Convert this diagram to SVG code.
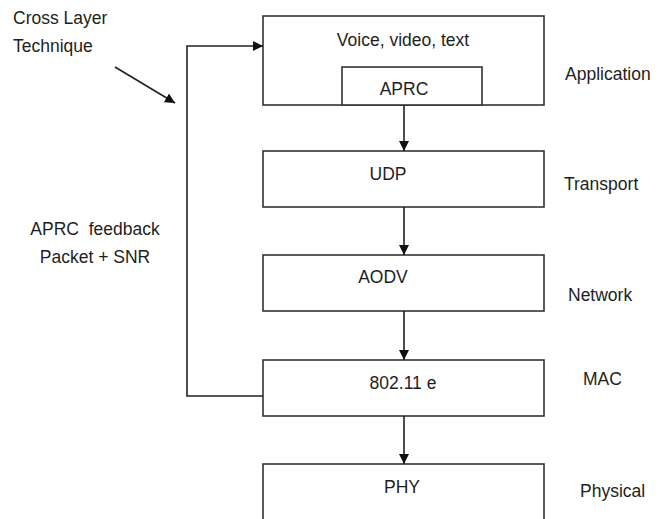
<svg xmlns="http://www.w3.org/2000/svg" width="667" height="519" viewBox="0 0 667 519">
<style>
.box{fill:#fff;stroke:#333;stroke-width:1.6}
.t{font-family:"Liberation Sans",Arial,sans-serif;font-size:17.5px;fill:#1e1e1e;white-space:pre}
.c{text-anchor:middle}
.ln{fill:none;stroke:#222;stroke-width:1.6}
</style>
<defs>
<marker id="ah" viewBox="0 0 10 10" refX="10" refY="5" markerWidth="10" markerHeight="10" markerUnits="userSpaceOnUse" orient="auto">
<path d="M0,0 L10,5 L0,10 Z" fill="#111"/>
</marker>
</defs>
<rect width="667" height="519" fill="#fff"/>
<g id="application">
<rect class="box" x="263" y="16" width="281" height="89"/>
<text class="t c" x="403" y="46">Voice, video, text</text>
</g>
<g id="aprc">
<rect class="box" x="342" y="67" width="140" height="38"/>
<text class="t c" x="404" y="95">APRC</text>
</g>
<g id="udp">
<rect class="box" x="263" y="151" width="281" height="56"/>
<text class="t c" x="388" y="180">UDP</text>
</g>
<g id="aodv">
<rect class="box" x="263" y="255" width="281" height="56"/>
<text class="t c" x="383" y="283">AODV</text>
</g>
<g id="mac">
<rect class="box" x="263" y="360" width="281" height="56"/>
<text class="t c" x="403" y="389">802.11 e</text>
</g>
<g id="phy">
<rect class="box" x="263" y="464" width="281" height="70"/>
<text class="t c" x="402" y="493">PHY</text>
</g>
<g id="labels">
<text class="t" x="565" y="80">Application</text>
<text class="t" x="564" y="190">Transport</text>
<text class="t" x="568" y="301">Network</text>
<text class="t" x="583" y="385">MAC</text>
<text class="t" x="580" y="497">Physical</text>
<text class="t" x="13" y="24">Cross Layer</text>
<text class="t" x="13" y="52">Technique</text>
<text class="t c" x="95" y="235" xml:space="preserve">APRC  feedback</text>
<text class="t c" x="95" y="263">Packet + SNR</text>
</g>
<g id="connectors">
<line class="ln" x1="404" y1="105" x2="404" y2="151" marker-end="url(#ah)"/>
<line class="ln" x1="404" y1="207" x2="404" y2="255" marker-end="url(#ah)"/>
<line class="ln" x1="404" y1="311" x2="404" y2="360" marker-end="url(#ah)"/>
<line class="ln" x1="404" y1="416" x2="404" y2="464" marker-end="url(#ah)"/>
<polyline class="ln" points="263,396 187,396 187,46 263,46" marker-end="url(#ah)"/>
<line class="ln" x1="115" y1="67" x2="175" y2="103" marker-end="url(#ah)"/>
</g>
</svg>
